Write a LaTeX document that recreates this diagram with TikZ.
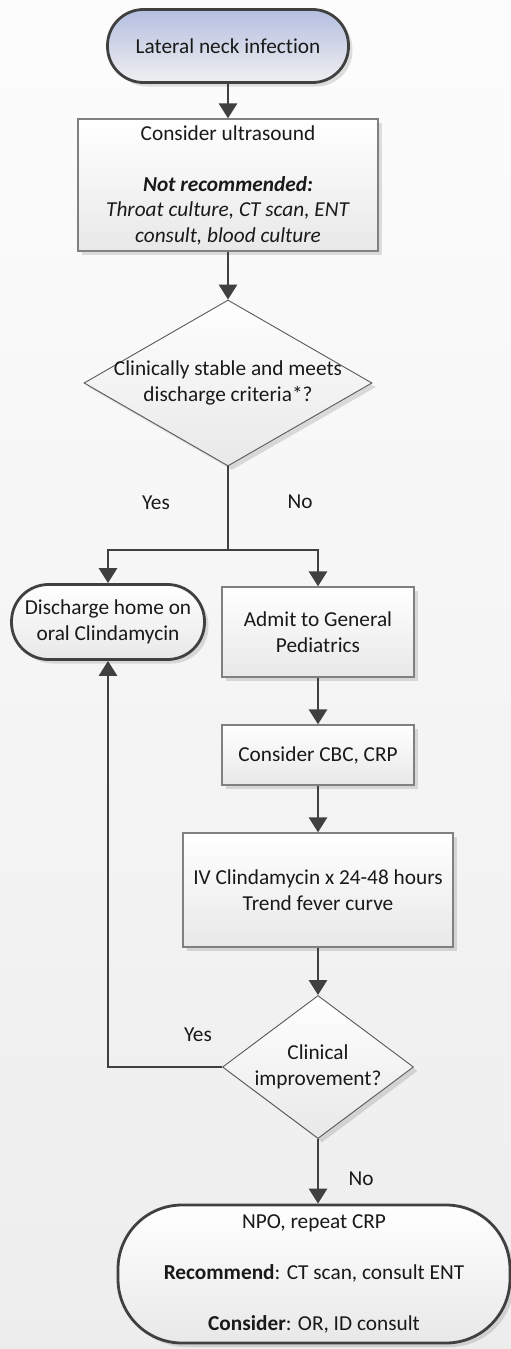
\documentclass[tikz,border=0pt]{standalone}
\usepackage{fontspec}
\setmainfont{Carlito}[Ligatures=NoCommon]
\usetikzlibrary{arrows.meta,shapes.geometric,shadows}
\definecolor{linedark}{HTML}{404040}
\definecolor{boxedge}{HTML}{808080}
\definecolor{startblue}{HTML}{B4BEE0}
\begin{document}
\begin{tikzpicture}[x=1pt,y=-1pt,
                every node/.style={font=\fontsize{21.3}{25.5}\selectfont,text=black!90,inner sep=0pt,align=center},
                shadebox/.style={top color=white,bottom color=black!9,drop shadow={shadow xshift=4pt,shadow yshift=-4pt,fill=black,opacity=.12}},
                terminal/.style={shadebox,rectangle,rounded corners=#1,draw=linedark,line width=2.8pt},
                process/.style={shadebox,rectangle,draw=boxedge,line width=1.3pt},
                decision/.style={shadebox,diamond,draw=black!65,line width=.9pt},
                link/.style={draw=linedark,line width=2.9pt},
                flow/.style={link,-{Triangle[width=18pt,length=15pt]}}]
                \useasboundingbox (0,0) rectangle (511,1349);
                \shade[top color=black!1,bottom color=black!7] (0,0) rectangle (511,1349);
                \node[terminal=36pt,top color=startblue,bottom color=black!6,minimum width=241pt,minimum height=73pt] (start) at (228,46) {Lateral neck infection};
                \node[process,minimum width=300pt,minimum height=132pt] (us) at (228,185) {Consider ultrasound\\[\baselineskip]\textbf{\textit{Not recommended:}}\\\textit{Throat culture, CT scan, ENT}\\\textit{consult, blood culture}};
                \node[decision,minimum width=288pt,minimum height=166pt] (d1) at (228,383) {};
                \node (d1txt) at (d1) {Clinically stable and meets\\discharge criteria*?};
                \coordinate (split) at (228,550);
                \node[terminal=37pt,minimum width=193pt,minimum height=75pt] (dis) at (108,622) {Discharge home on\\oral Clindamycin};
                \node[process,minimum width=192pt,minimum height=90pt] (admit) at (318,632) {Admit to General\\Pediatrics};
                \node[process,minimum width=192pt,minimum height=60pt] (cbc) at (318,755) {Consider CBC, CRP};
                \node[process,minimum width=270pt,minimum height=114pt] (iv) at (318,890) {IV Clindamycin x 24-48 hours\\Trend fever curve};
                \node[decision,minimum width=191pt,minimum height=143pt] (d2) at (318,1067) {};
                \node (d2txt) at (d2) {Clinical\\improvement?};
                \node[terminal=64pt,minimum width=392pt,minimum height=138pt] (final) at (314,1274) {NPO, repeat CRP\\[\baselineskip]\textbf{Recommend}: CT scan, consult ENT\\[\baselineskip]\textbf{Consider}: OR, ID consult};
                \node (yes1) at (156,503) {Yes};
                \node (no1) at (300,502) {No};
                \node (yes2) at (198,1035) {Yes};
                \node (no2) at (361,1179) {No};
                \draw[flow] (start) -- (us);
                \draw[flow] (us) -- (d1);
                \draw[link] (d1) -- (split);
                \draw[flow] (split) -| (dis);
                \draw[flow] (split) -| (admit);
                \draw[flow] (admit) -- (cbc);
                \draw[flow] (cbc) -- (iv);
                \draw[flow] (iv) -- (d2);
                \draw[flow] (d2.west) -| (dis);
                \draw[flow] (d2) -- (d2 |- final.north);
            \end{tikzpicture}
\end{document}
